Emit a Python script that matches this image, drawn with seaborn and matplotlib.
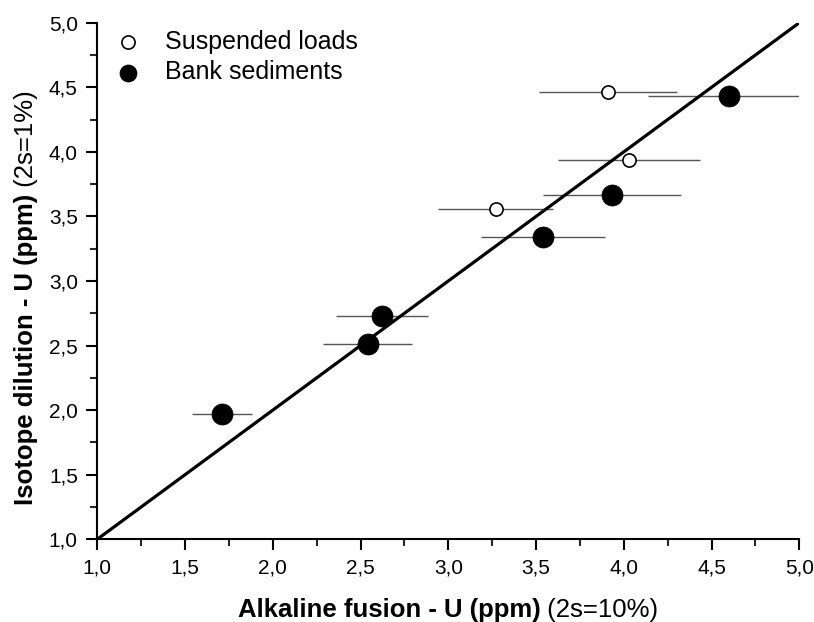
import pandas as pd
import matplotlib
matplotlib.use("Agg")
import matplotlib.pyplot as plt
import seaborn as sns
from matplotlib.ticker import MultipleLocator, FixedLocator

# values (alkaline fusion x, isotope dilution y, in ppm)
susp_x = [3.27, 3.91, 4.03]
susp_y = [3.56, 4.46, 3.94]
bank_x = [1.71, 2.54, 2.62, 3.54, 3.93, 4.60]
bank_y = [1.97, 2.51, 2.73, 3.34, 3.665, 4.43]
rel_err = 0.10  # 2s = 10 % on the alkaline fusion values

ticks = [1.0, 1.5, 2.0, 2.5, 3.0, 3.5, 4.0, 4.5, 5.0]
tick_labels = ["1,0", "1,5", "2,0", "2,5", "3,0", "3,5", "4,0", "4,5", "5,0"]

susp = pd.DataFrame({"x": susp_x, "y": susp_y})
bank = pd.DataFrame({"x": bank_x, "y": bank_y})

sns.set_style("white")
plt.rcParams["font.family"] = ["Liberation Sans", "DejaVu Sans"]
plt.rcParams["text.color"] = "black"
plt.rcParams["axes.labelcolor"] = "black"

fig = plt.figure(figsize=(8.14, 6.22), dpi=100)
ax = fig.add_axes([0.1195, 0.133, 0.8625, 0.8305])

# 1:1 line
ax.plot([1, 5], [1, 5], color="black", lw=2.3, zorder=2)

# horizontal error bars
for df in (susp, bank):
    ax.errorbar(df["x"], df["y"], xerr=df["x"] * rel_err, fmt="none",
                ecolor="#555555", elinewidth=1.0, capsize=0, zorder=1)

sns.scatterplot(data=susp, x="x", y="y", ax=ax, marker="o", s=90,
                facecolor="white", edgecolor="black", linewidth=1.2,
                label="Suspended loads", zorder=3)
sns.scatterplot(data=bank, x="x", y="y", ax=ax, marker="o", s=230,
                color="black", edgecolor="black", linewidth=0.5,
                label="Bank sediments", zorder=3)

ax.set_xlim(1, 5)
ax.set_ylim(1, 5)
ax.xaxis.set_major_locator(FixedLocator(ticks))
ax.yaxis.set_major_locator(FixedLocator(ticks))
ax.set_xticklabels(tick_labels)
ax.set_yticklabels(tick_labels)
ax.xaxis.set_minor_locator(MultipleLocator(0.25))
ax.yaxis.set_minor_locator(MultipleLocator(0.25))
ax.tick_params(which="major", direction="out", length=8, width=1.5,
               labelsize=15, colors="black", bottom=True, left=True, pad=6)
ax.tick_params(which="minor", direction="out", length=5, width=1.5,
               bottom=True, left=True)
for side in ("top", "right"):
    ax.spines[side].set_visible(False)
for side in ("bottom", "left"):
    ax.spines[side].set_linewidth(1.5)
    ax.spines[side].set_color("black")

ax.set_xlabel("")
ax.set_ylabel("")

# axis titles: bold part followed by a plain part
tx = ax.text(0.2, -0.16, "Alkaline fusion - U (ppm)", transform=ax.transAxes,
             fontsize=18.5, fontweight="bold", ha="left", va="bottom")
ax.annotate(" (2s=10%)", xy=(1, 0), xycoords=tx, fontsize=18.5,
            ha="left", va="bottom")
ty = ax.text(-0.085, 0.066, "Isotope dilution - U (ppm)", transform=ax.transAxes,
             fontsize=18.5, fontweight="bold", rotation=90, ha="right", va="bottom")
ax.annotate(" (2s=1%)", xy=(1, 1), xycoords=ty, fontsize=18.5, rotation=90,
            ha="right", va="bottom")

leg = ax.legend(loc="upper left", bbox_to_anchor=(-0.008, 1.02), frameon=False,
                fontsize=18, handletextpad=0.75, labelspacing=0.25,
                borderaxespad=0.3, handlelength=1.5)
leg.legend_handles[0].set_sizes([90])
leg.legend_handles[1].set_sizes([150])

fig.savefig("out.png", dpi=100)
